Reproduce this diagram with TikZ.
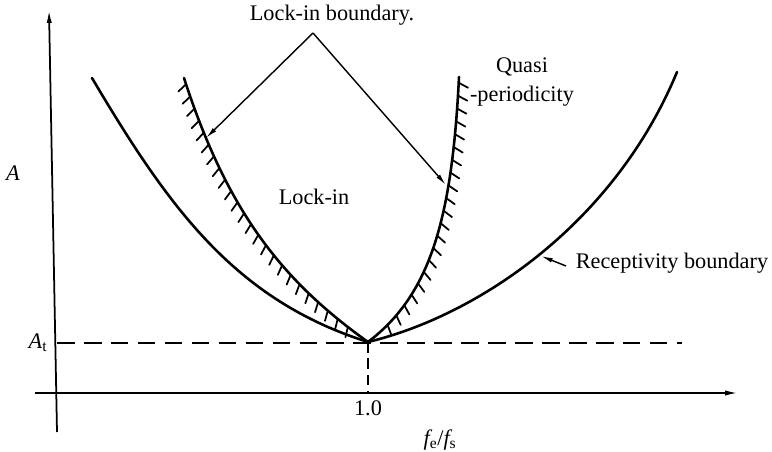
\documentclass[tikz,border=0pt]{standalone}
\usepackage{fontspec}
\setmainfont{Liberation Serif}
\usetikzlibrary{arrows.meta,decorations.markings}
\tikzset{
  lbl/.style={font=\fontsize{19}{24}\selectfont, inner sep=0pt, align=center},
  axis/.style={line width=1.5pt, -{Latex[length=11pt,width=4.5pt]}},
  bound/.style={line width=2.2pt, line join=round, line cap=round},
  guide/.style={line width=1.2pt, dash pattern=on 15pt off 8pt},
  arr/.style={line width=1.2pt, -{Latex[length=10pt,width=4pt]}},
  hatchl/.style={postaction={decorate, decoration={markings, mark=between positions 0.02 and 0.95 step 11pt with {\draw[line width=1.5pt] (0,0) -- (-65:9pt);}}}},
  hatchr/.style={postaction={decorate, decoration={markings, mark=between positions 0.02 and 0.95 step 11pt with {\draw[line width=1.5pt] (0,0) -- (65:9pt);}}}}}
\begin{document}
\begin{tikzpicture}[x=0.03cm, y=-0.03cm]
  \useasboundingbox (0,0) rectangle (772,452);
  \coordinate (ybot) at (57,432);
  \coordinate (ytop) at (49,10);
  \coordinate (xleft) at (35,393);
  \coordinate (xright) at (738,393);
  \coordinate (tleft) at (57,343);
  \coordinate (tright) at (682,343);
  \coordinate (minpt) at (368,342);
  \coordinate (xone) at (368,393);
  \coordinate (apex) at (313,33);
  \coordinate (tipl) at (206,138);
  \coordinate (tipr) at (446,185);
  \coordinate (rtail) at (566,266);
  \coordinate (rtip) at (541,256);
  \draw[axis] (ybot) -- (ytop);
  \draw[axis] (xleft) -- (xright);
  \draw[guide] (tleft) -- (tright);
  \draw[guide, dash pattern=on 9pt off 5pt] (minpt) -- (xone);
  \draw[bound] (92,78) .. controls (169,208) and (235,300) .. (minpt);
  \draw[bound] (minpt) .. controls (480,315) and (615,222) .. (677,72);
  \draw[bound, hatchl] (184,78) .. controls (228,214) and (284,282) .. (minpt);
  \draw[bound, hatchr] (459,77) .. controls (452,220) and (430,295) .. (minpt);
  \draw[arr] (apex) -- (tipl);
  \draw[arr] (apex) -- (tipr);
  \draw[arr] (rtail) -- (rtip);
  \node[lbl] (lbtitle) at (332,15) {Lock-in boundary.};
  \node[lbl] (lockin) at (314,197) {Lock-in};
  \node[lbl] (quasi) at (522,82) {Quasi\\-periodicity};
  \node[lbl] (recep) at (672,263) {Receptivity boundary};
  \node[lbl] (alab) at (13,173) {\itshape A};
  \node[lbl] (atlab) at (38,343) {{\itshape A}\textsubscript{t}};
  \node[lbl] (onelab) at (368,408) {1.0};
  \node[lbl] (flab) at (440,440) {{\itshape f}\textsubscript{e}/{\itshape f}\textsubscript{s}};
\end{tikzpicture}
\end{document}
